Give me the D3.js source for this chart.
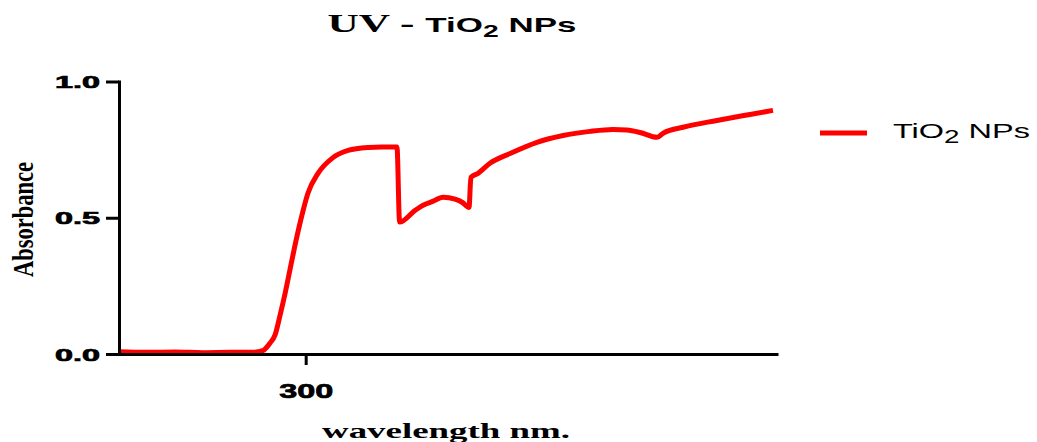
<!DOCTYPE html>
<html>
<head>
<meta charset="utf-8">
<script src="https://cdn.jsdelivr.net/npm/d3@7"></script>
<style>
  html, body { margin: 0; padding: 0; background: #fff; }
  svg { display: block; }
</style>
</head>
<body>
<svg id="chart" width="1037" height="442"></svg>
<script>
// UV-Vis absorbance spectrum of TiO2 nanoparticles
const wavelengths = [200, 215, 230, 245, 260, 272, 277, 280.9, 283.6, 286.2, 288.9, 291.6, 294.3, 298, 301.2,
  306.6, 314.1, 322.7, 333.4, 341, 348.9, 350.3, 358.6, 362.9, 368, 373.6, 380, 384, 387.5, 388.5,
  392.3, 398.7, 409.5, 423.9, 437.9, 452.3, 464.6, 472, 479.1, 488.2, 491.4, 502.1, 520.3, 538, 550.3];
const absorbance = [0.008, 0.006, 0.007, 0.005, 0.006, 0.006, 0.012, 0.04, 0.07, 0.14, 0.22, 0.31, 0.40, 0.51, 0.59,
  0.663, 0.718, 0.747, 0.758, 0.76, 0.76, 0.484, 0.527, 0.546, 0.56, 0.575, 0.568, 0.556, 0.538, 0.648,
  0.663, 0.7, 0.736, 0.777, 0.802, 0.817, 0.824, 0.822, 0.813, 0.795, 0.81, 0.832, 0.857, 0.879, 0.894];
const xTicks = [300];
const yTicks = [0.0, 0.5, 1.0];
const seriesName = "TiO2 NPs";

const svg = d3.select("#chart");
const x = d3.scaleLinear().domain([200, 553]).range([119, 778]);
const y = d3.scaleLinear().domain([0, 1]).range([354, 81.5]);

const SANS = "'Liberation Sans', Arial, sans-serif";
const SERIF = "'Liberation Serif', 'Times New Roman', serif";

// stretch a text element horizontally to a given width around an anchor x
function fitWidth(sel, width, ax) {
  const bb = sel.node().getBBox();
  const s = width / bb.width;
  sel.attr("transform", `translate(${ax},0) scale(${s},1) translate(${-ax},0)`);
}

// data line
const pts = wavelengths.map((w, i) => [w, absorbance[i]]);
svg.append("path")
  .datum(pts)
  .attr("fill", "none")
  .attr("stroke", "#ff0000")
  .attr("stroke-width", 5)
  .attr("stroke-linejoin", "round")
  .attr("d", d3.line().x(d => x(d[0])).y(d => y(d[1])).curve(d3.curveMonotoneX));

// y axis
const yAxis = svg.append("g").attr("transform", "translate(119,0)")
  .call(d3.axisLeft(y).tickValues(yTicks).tickSize(13).tickSizeOuter(0).tickFormat(d3.format(".1f")));
yAxis.select(".domain").attr("stroke", "#000").attr("stroke-width", 3).attr("stroke-linecap", "square");
yAxis.selectAll(".tick line").attr("stroke", "#000").attr("stroke-width", 3);
yAxis.selectAll(".tick text")
  .attr("x", -19).attr("dy", "0.36em")
  .attr("font-family", SANS).attr("font-weight", "bold").attr("font-size", 17)
  .attr("fill", "#000").attr("stroke", "#000").attr("stroke-width", 0.7);
yAxis.selectAll(".tick text").each(function () { fitWidth(d3.select(this), 45, -19); });

// x axis
const xAxis = svg.append("g").attr("transform", "translate(0,354)")
  .call(d3.axisBottom(x).tickValues(xTicks).tickSize(11).tickSizeOuter(0));
xAxis.select(".domain").attr("stroke", "#000").attr("stroke-width", 3);
xAxis.selectAll(".tick line").attr("stroke", "#000").attr("stroke-width", 3);
xAxis.selectAll(".tick text")
  .attr("y", 44).attr("dy", 0)
  .attr("font-family", SANS).attr("font-weight", "bold").attr("font-size", 21)
  .attr("fill", "#000").attr("stroke", "#000").attr("stroke-width", 0.7);
// tick groups are already translated to x(d), so scale about local 0
xAxis.selectAll(".tick text").each(function () { fitWidth(d3.select(this), 54, 0); });

// title
const title = svg.append("text").attr("x", 452).attr("y", 32).attr("text-anchor", "middle").attr("fill", "#000");
title.append("tspan").attr("font-family", SERIF).attr("font-weight", "bold").attr("font-size", 26).text("UV - ");
title.append("tspan").attr("font-family", SANS).attr("font-weight", "bold").attr("font-size", 21).text("TiO");
title.append("tspan").attr("font-family", SANS).attr("font-weight", "bold").attr("font-size", 17).attr("dy", 5).text("2");
title.append("tspan").attr("font-family", SANS).attr("font-weight", "bold").attr("font-size", 21).attr("dy", -5).text(" NPs");
fitWidth(title, 249, 452);

// x axis title
const xt = svg.append("text").attr("x", 446).attr("y", 438).attr("text-anchor", "middle")
  .attr("font-family", SERIF).attr("font-weight", "bold").attr("font-size", 22).attr("fill", "#000")
  .text("wavelength nm.");
fitWidth(xt, 248, 446);

// y axis title (rotated, stretched across the glyph height)
const ytG = svg.append("g").attr("transform", "translate(33,219.5) rotate(-90)");
const yt = ytG.append("text").attr("x", 0).attr("y", 0).attr("text-anchor", "middle")
  .attr("font-family", SERIF).attr("font-weight", "bold").attr("font-size", 30).attr("fill", "#000")
  .text("Absorbance");
{
  const bb = yt.node().getBBox();
  yt.attr("transform", `scale(${115 / bb.width},1)`);
}

// legend
svg.append("line").attr("x1", 820).attr("x2", 867).attr("y1", 133).attr("y2", 133)
  .attr("stroke", "#ff0000").attr("stroke-width", 5);
const lg = svg.append("text").attr("x", 893).attr("y", 138).attr("fill", "#000")
  .attr("font-family", SANS).attr("font-size", 21);
lg.append("tspan").text(seriesName.slice(0, 3));
lg.append("tspan").attr("font-size", 18).attr("dy", 5).text(seriesName.slice(3, 4));
lg.append("tspan").attr("dy", -5).text(seriesName.slice(4));
fitWidth(lg, 137, 893);
</script>
</body>
</html>
